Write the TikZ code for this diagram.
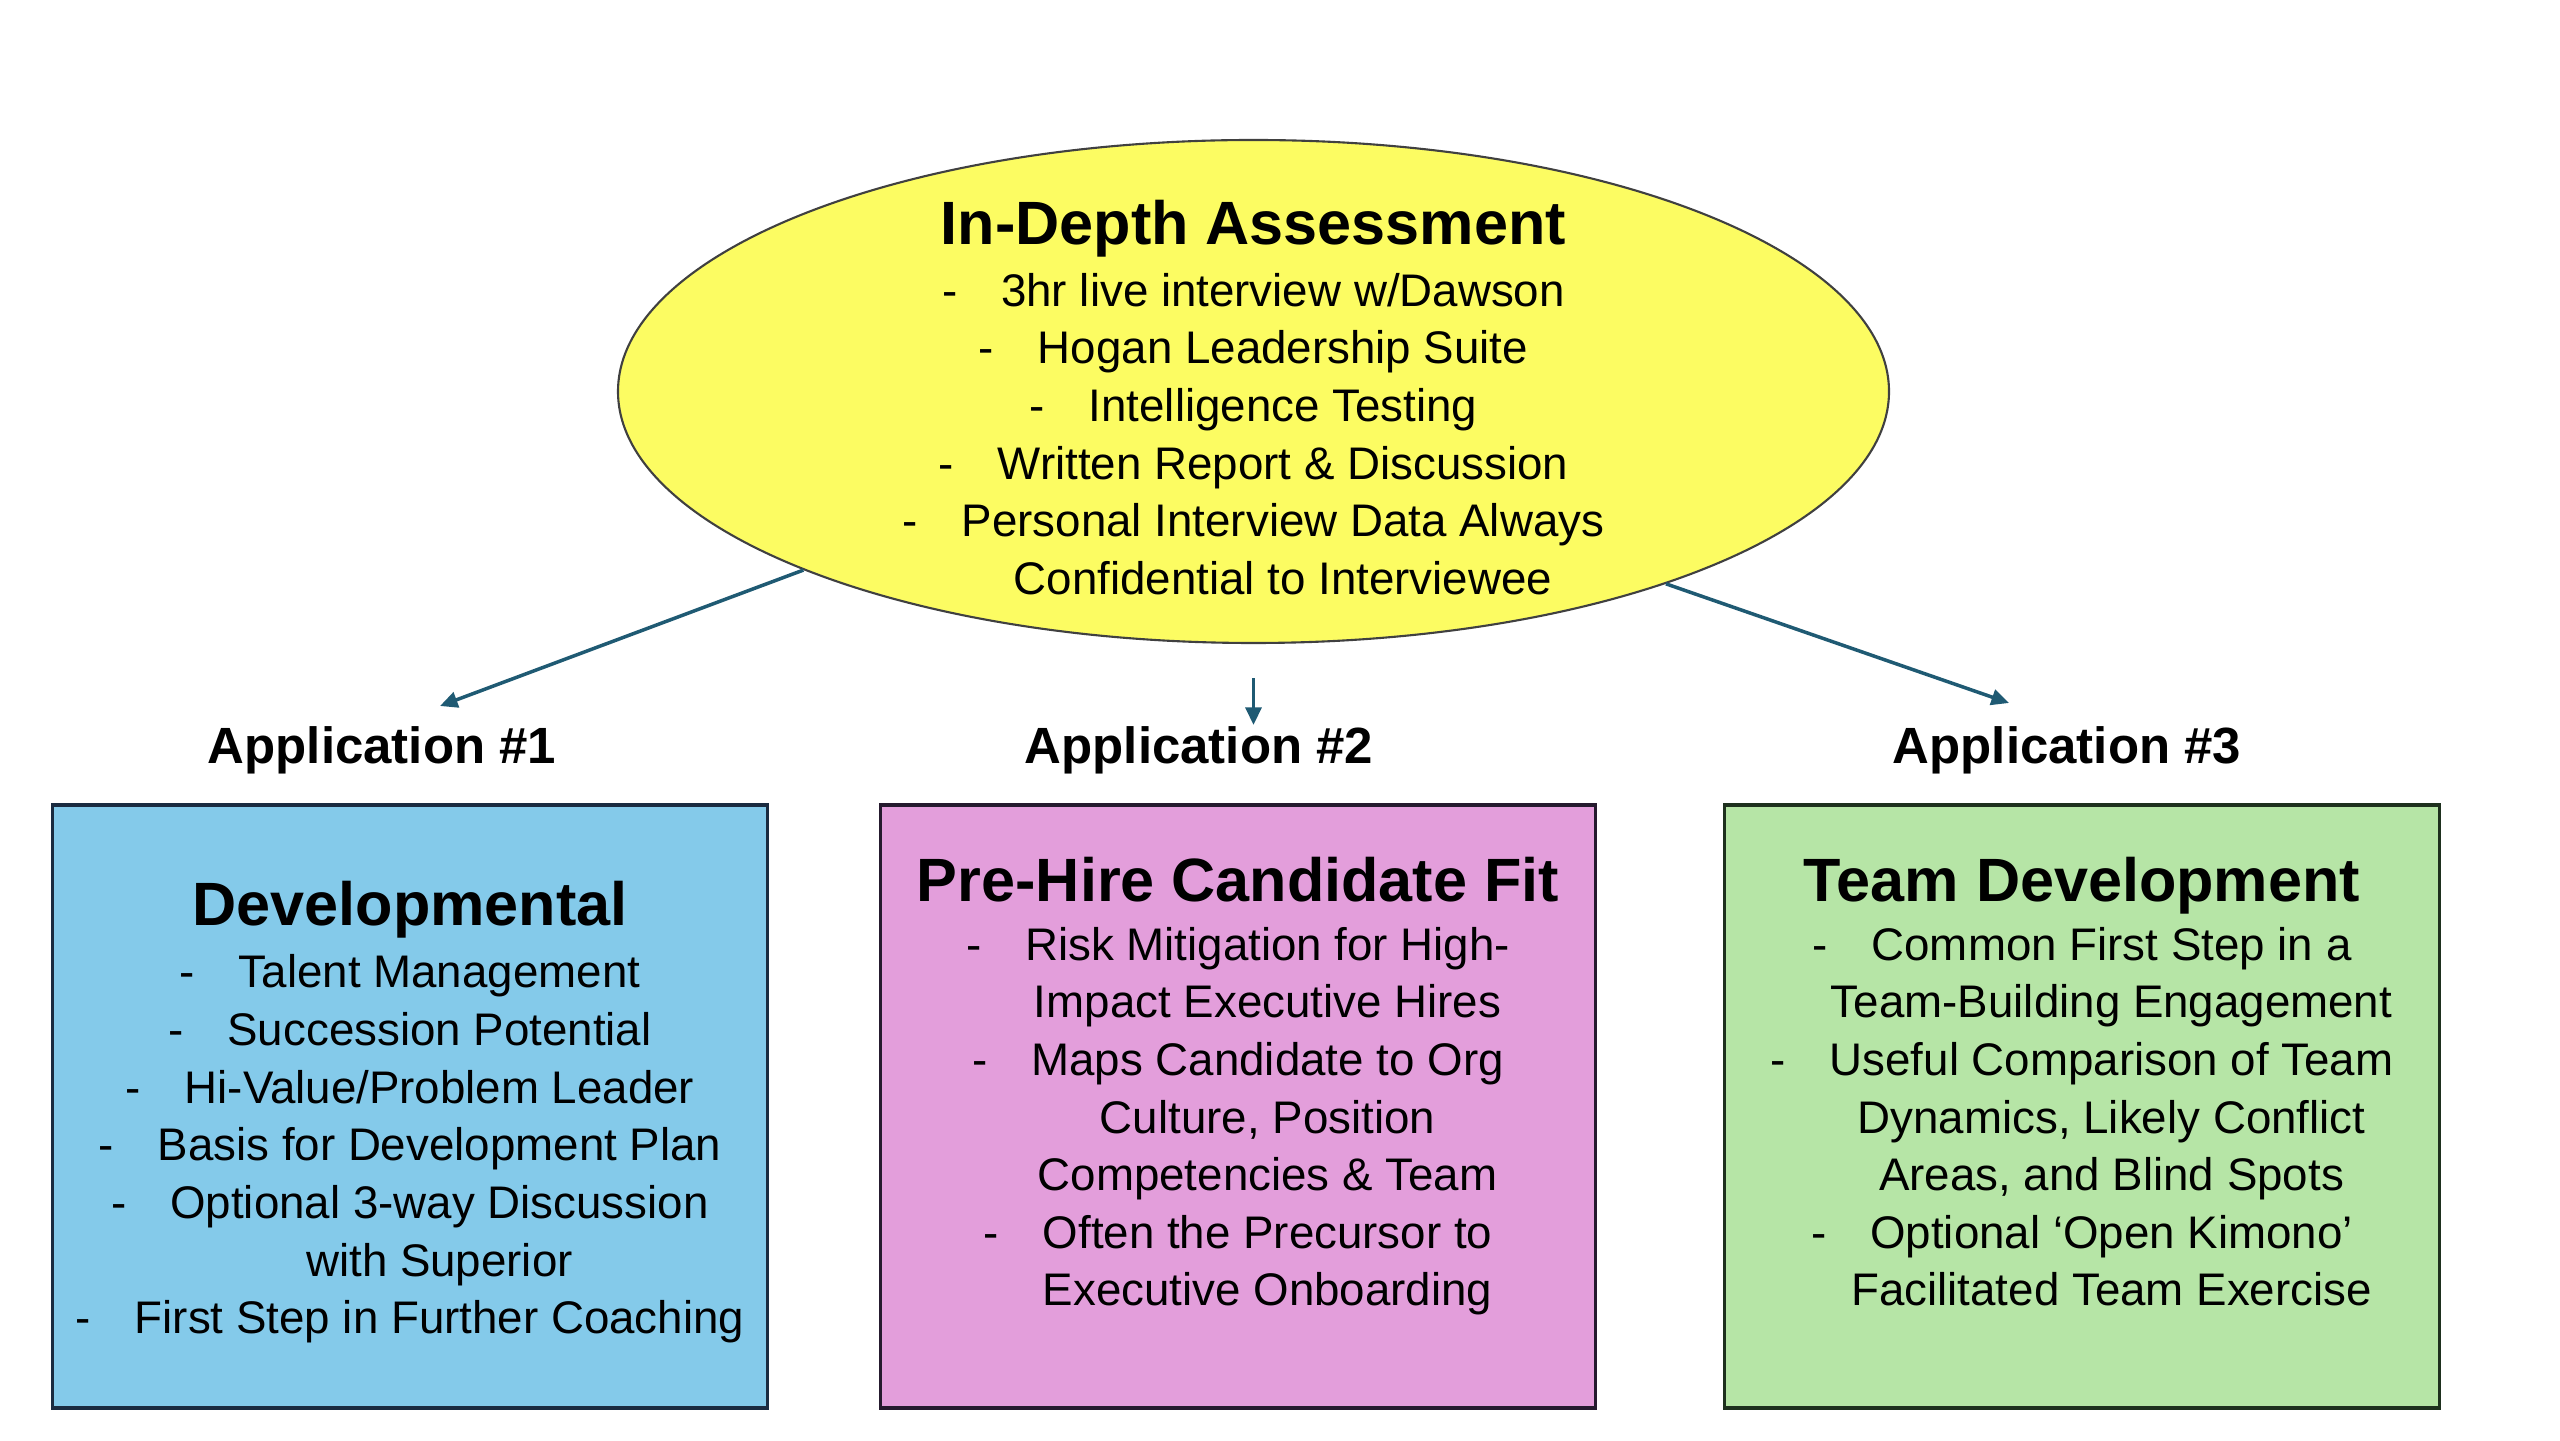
\documentclass[tikz,border=0pt]{standalone}
\usepackage{fontspec}
\setmainfont{Liberation Sans}
\usetikzlibrary{arrows.meta,positioning,shapes.geometric}
\definecolor{assessyellow}{HTML}{FCFC62}
\definecolor{devblue}{HTML}{84CAEA}
\definecolor{devborder}{HTML}{1A2B40}
\definecolor{hirepink}{HTML}{E39EDB}
\definecolor{hireborder}{HTML}{251A2E}
\definecolor{teamgreen}{HTML}{B6E5A6}
\definecolor{teamborder}{HTML}{1E301E}
\definecolor{arrowteal}{HTML}{1F5A73}
\newcommand{\dashitem}{\makebox[16.8pt][l]{-}}
\newcommand{\hangline}{\hspace*{16.8pt}}

\begin{document}
\begin{tikzpicture}[
  assessment/.style={ellipse, draw=black!75, line width=0.6pt, fill=assessyellow, minimum width=12.71cm, minimum height=5.03cm, inner sep=0pt},
  appbox/.style={draw, line width=1pt, minimum width=7.15cm, minimum height=6.03cm, inner sep=0pt},
  heading/.style={font=\fontsize{17.4}{20}\selectfont\bfseries, inner sep=0pt, anchor=base},
  bullets/.style={align=center, font=\fontsize{13}{16.4}\selectfont, inner sep=0pt},
  applabel/.style={font=\fontsize{14.5}{17}\selectfont\bfseries, inner sep=0pt},
  arrow/.style={-{Triangle[length=5pt, width=4.5pt]}, draw=arrowteal, line width=1pt}
]
\useasboundingbox (0,0) rectangle (25.6,14.4);
\node[assessment] (assess) at (12.535,10.485) {};
\node[heading] (assesstitle) at ([yshift=1.465cm]assess.center) {In-Depth Assessment};
\node[bullets] (assesslist) at ([yshift=-0.425cm]assess.center) {\dashitem 3hr live interview w/Dawson\\
  \dashitem Hogan Leadership Suite\\
  \dashitem Intelligence Testing\\
  \dashitem Written Report \& Discussion\\
  \dashitem Personal Interview Data Always\\
  \hangline Confidential to Interviewee};

\node[appbox, draw=devborder, fill=devblue] (dev) at (4.10,3.335) {};
\node[appbox, draw=hireborder, fill=hirepink, right=1.095cm of dev] (prehire) {};
\node[appbox, draw=teamborder, fill=teamgreen, right=1.255cm of prehire] (teamdev) {};

\node[heading] (devtitle) at ([yshift=-1.225cm]dev.north) {Developmental};
\node[bullets] (devlist) at ([yshift=-3.457cm]dev.north) {\dashitem Talent Management\\
  \dashitem Succession Potential\\
  \dashitem Hi-Value/Problem Leader\\
  \dashitem Basis for Development Plan\\
  \dashitem Optional 3-way Discussion\\
  \hangline with Superior\\
  \dashitem First Step in Further Coaching};

\node[heading] (prehiretitle) at ([yshift=-0.98cm]prehire.north) {Pre-Hire Candidate Fit};
\node[bullets] (prehirelist) at ([yshift=-3.18cm]prehire.north) {\dashitem Risk Mitigation for High-\\
  \hangline Impact Executive Hires\\
  \dashitem Maps Candidate to Org\\
  \hangline Culture, Position\\
  \hangline Competencies \& Team\\
  \dashitem Often the Precursor to\\
  \hangline Executive Onboarding};

\node[heading] (teamdevtitle) at ([yshift=-0.98cm]teamdev.north) {Team Development};
\node[bullets] (teamdevlist) at ([yshift=-3.135cm]teamdev.north) {\dashitem Common First Step in a\\
  \hangline Team-Building Engagement\\
  \dashitem Useful Comparison of Team\\
  \hangline Dynamics, Likely Conflict\\
  \hangline Areas, and Blind Spots\\
  \dashitem Optional ‘Open Kimono’\\
  \hangline Facilitated Team Exercise};

\node[applabel] (app1) at (3.82,6.90) {Application \#1};
\node[applabel] (app2) at (11.99,6.90) {Application \#2};
\node[applabel] (app3) at (20.67,6.90) {Application \#3};

\coordinate (tip1) at (4.40,7.34);
\coordinate (tip2) at (12.535,7.15);
\coordinate (tip3) at (20.09,7.37);
\draw[arrow] (assess.south west) -- (tip1);
\draw[arrow, shorten <=0.34cm] (assess.south) -- (tip2);
\draw[arrow] (assess.-25) -- (tip3);
\end{tikzpicture}
\end{document}
